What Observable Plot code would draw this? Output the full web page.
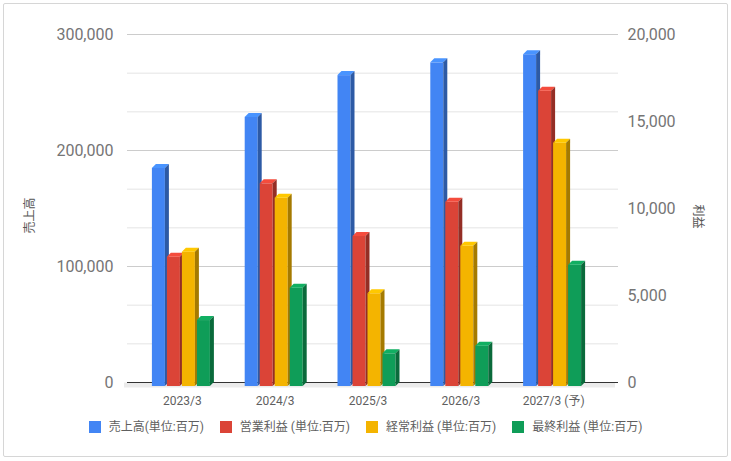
<!DOCTYPE html>
<html>
<head>
<meta charset="utf-8">
<script src="https://cdn.jsdelivr.net/npm/d3@7"></script>
<script src="https://cdn.jsdelivr.net/npm/@observablehq/plot@0.6"></script>
<style>
  html, body { margin: 0; padding: 0; background: #fff; }
  body { width: 731px; height: 461px; position: relative; overflow: hidden;
         font-family: Roboto, "Noto Sans CJK JP", sans-serif; }
  #frame { position: absolute; left: 3px; top: 3px; width: 723px; height: 452px;
           border: 1px solid #d6d6d6; border-radius: 2px; }
  #chart { position: absolute; left: 0; top: 0; }
  #legend { position: absolute; left: 0; top: 419px; width: 731px; display: flex;
            justify-content: center; gap: 16px; font-size: 12px; color: #5f5f5f; line-height: 16px; }
  #legend .item { display: flex; align-items: center; gap: 8px; white-space: nowrap; }
  #legend .sw { width: 12px; height: 12px; }
</style>
</head>
<body>
<div id="frame"></div>
<div id="chart"></div>
<div id="legend"></div>
<script>
// ---- data ----
const years = ["2023/3", "2024/3", "2025/3", "2026/3", "2027/3 (予)"];
const sales = [188000, 232000, 268000, 279000, 286000];      // 売上高 (left axis)
const opProfit = [7430, 11650, 8620, 10590, 16970];          // 営業利益 (right axis)
const ordProfit = [7720, 10820, 5330, 8060, 13980];          // 経常利益 (right axis)
const netProfit = [3790, 5650, 1880, 2320, 6970];            // 最終利益 (right axis)
const seriesNames = ["売上高(単位:百万)", "営業利益 (単位:百万)", "経常利益 (単位:百万)", "最終利益 (単位:百万)"];
const colors = ["#4285F4", "#DB4437", "#F4B400", "#0F9D58"];
const leftTicks = [0, 100000, 200000, 300000];
const rightTicks = [0, 5000, 10000, 15000, 20000];
const leftMax = 300000, rightMax = 20000;
const RATIO = leftMax / rightMax;

const rows = years.map((y, i) => ({year: y, v: [sales[i], opProfit[i] * RATIO, ordProfit[i] * RATIO, netProfit[i] * RATIO]}));

// 3D box look for bars
const D = 4;
function box3d(base) {
  const side = d3.color(base).darker(1.1).formatHex();
  const topc = d3.color(base).brighter(0.3).formatHex();
  const ns = "http://www.w3.org/2000/svg";
  return (index, scales, values, dims, ctx, next) => {
    const g = next(index, scales, values, dims, ctx);
    for (const r of Array.from(g.querySelectorAll("rect"))) {
      const x = +r.getAttribute("x"), y = +r.getAttribute("y");
      const w = +r.getAttribute("width"), h = +r.getAttribute("height");
      r.setAttribute("y", y + D);
      r.setAttribute("fill", base);
      const pt = document.createElementNS(ns, "polygon");
      pt.setAttribute("points", `${x},${y + D} ${x + D},${y} ${x + w + D},${y} ${x + w},${y + D}`);
      pt.setAttribute("fill", topc);
      const ps = document.createElementNS(ns, "polygon");
      ps.setAttribute("points", `${x + w},${y + D} ${x + w + D},${y} ${x + w + D},${y + h} ${x + w},${y + h + D}`);
      ps.setAttribute("fill", side);
      r.after(pt, ps);
    }
    return g;
  };
}

const gridAll = d3.range(0, 10).map(i => i * leftMax / 9);
const gridMinor = gridAll.filter(v => !leftTicks.some(t => Math.abs(t - v) < 1));

const barMarks = colors.map((c, i) => Plot.barY(rows, {
  x: "year",
  y: d => d.v[i],
  fill: c,
  insetLeft: 39.9,
  insetRight: 39.9,
  dx: (i - 1.5) * 15 - 1,
  render: box3d(c)
}));

const chart = Plot.plot({
  width: 731,
  height: 410,
  marginLeft: 127,
  marginRight: 113,
  marginTop: 34,
  marginBottom: 28,
  style: {fontFamily: 'Roboto, "Noto Sans CJK JP", sans-serif', fontSize: "12px", background: "transparent", overflow: "visible"},
  x: {domain: years, range: [135.5, 599.5], padding: 0, round: false},
  y: {domain: [0, leftMax]},
  marks: [
    Plot.ruleY(gridMinor, {stroke: "#e4e4e4", strokeWidth: 1}),
    Plot.ruleY(leftTicks.slice(1), {stroke: "#cccccc", strokeWidth: 1}),
    Plot.ruleY([0], {stroke: "#ebebeb", strokeWidth: 5, dy: 2.5, dx: -3}),
    Plot.ruleY([0], {stroke: "#333333", strokeWidth: 1.2}),
    ...barMarks,
    Plot.axisY({anchor: "left", ticks: leftTicks, tickSize: 0, tickPadding: 14, fontSize: 16,
      fill: "#757575", tickFormat: d3.format(","), label: null}),
    Plot.axisY({anchor: "right", ticks: rightTicks.map(t => t * RATIO), tickSize: 0, tickPadding: 9, fontSize: 16,
      fill: "#757575", tickFormat: d => d3.format(",")(Math.round(d / RATIO)), label: null}),
    Plot.axisX({tickSize: 0, tickPadding: 14, fontSize: 12, fill: "#5f5f5f", label: null}),
    Plot.text(["売上高"], {frameAnchor: "left", textAnchor: "middle", dx: -97, dy: 7, rotate: -90, fontSize: 12, fill: "#555555"}),
    Plot.text(["利益"], {frameAnchor: "right", textAnchor: "middle", dx: 79, dy: 8, rotate: 90, fontSize: 12, fill: "#555555"})
  ]
});
document.getElementById("chart").appendChild(chart);

const legend = document.getElementById("legend");
seriesNames.forEach((n, i) => {
  const it = document.createElement("div");
  it.className = "item";
  const sw = document.createElement("span");
  sw.className = "sw";
  sw.style.background = colors[i];
  const tx = document.createElement("span");
  tx.textContent = n;
  it.append(sw, tx);
  legend.appendChild(it);
});
</script>
</body>
</html>
